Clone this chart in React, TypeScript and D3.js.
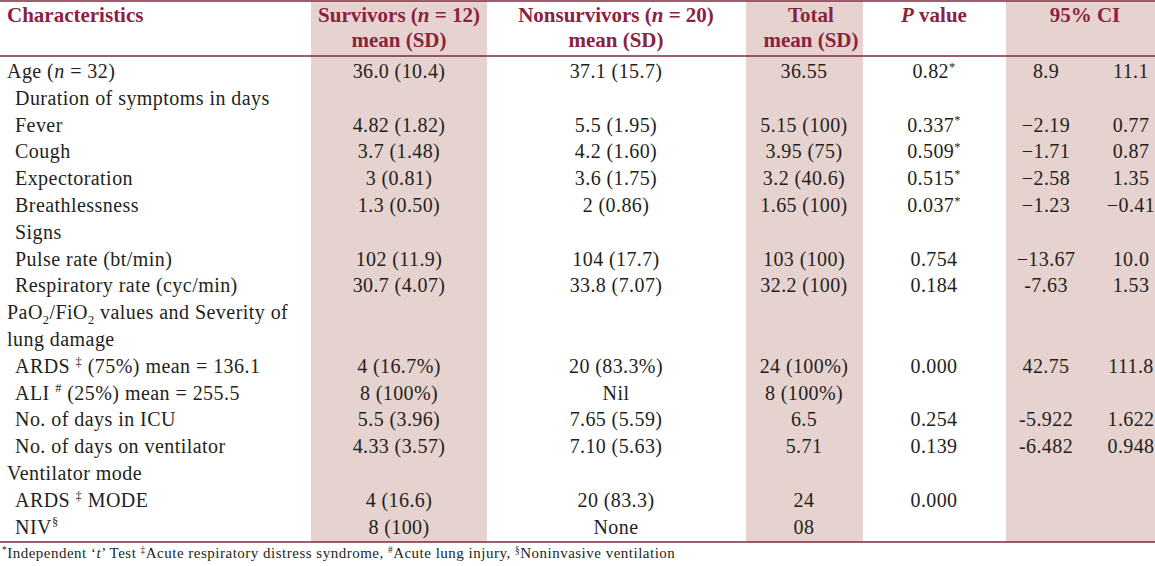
import React from "react";
import * as d3 from "d3";

// ---- data ----
const headerTitles = ["Characteristics", "Survivors (_n_ = 12)", "Nonsurvivors (_n_ = 20)", "Total", "_P_ value", "95% CI"];
const headerSubtitles = ["", "mean (SD)", "mean (SD)", "mean (SD)", "", ""];

const rowLabels = [
  "Age (_n_ = 32)",
  "Duration of symptoms in days",
  "Fever",
  "Cough",
  "Expectoration",
  "Breathlessness",
  "Signs",
  "Pulse rate (bt/min)",
  "Respiratory rate (cyc/min)",
  "PaO~2~/FiO~2~ values and Severity of",
  "lung damage",
  "ARDS ^‡^ (75%) mean = 136.1",
  "ALI ^#^ (25%) mean = 255.5",
  "No. of days in ICU",
  "No. of days on ventilator",
  "Ventilator mode",
  "ARDS ^‡^ MODE",
  "NIV^§^",
];
const rowLevels = [0, 1, 1, 1, 1, 1, 1, 1, 1, 0, 0, 1, 1, 1, 1, 0, 1, 1];

const survivors = ["36.0 (10.4)", "", "4.82 (1.82)", "3.7 (1.48)", "3 (0.81)", "1.3 (0.50)", "", "102 (11.9)", "30.7 (4.07)", "", "", "4 (16.7%)", "8 (100%)", "5.5 (3.96)", "4.33 (3.57)", "", "4 (16.6)", "8 (100)"];
const nonsurvivors = ["37.1 (15.7)", "", "5.5 (1.95)", "4.2 (1.60)", "3.6 (1.75)", "2 (0.86)", "", "104 (17.7)", "33.8 (7.07)", "", "", "20 (83.3%)", "Nil", "7.65 (5.59)", "7.10 (5.63)", "", "20 (83.3)", "None"];
const totals = ["36.55", "", "5.15 (100)", "3.95 (75)", "3.2 (40.6)", "1.65 (100)", "", "103 (100)", "32.2 (100)", "", "", "24 (100%)", "8 (100%)", "6.5", "5.71", "", "24", "08"];
const pValues = ["0.82^*^", "", "0.337^*^", "0.509^*^", "0.515^*^", "0.037^*^", "", "0.754", "0.184", "", "", "0.000", "", "0.254", "0.139", "", "0.000", ""];
const ciLower = ["8.9", "", "−2.19", "−1.71", "−2.58", "−1.23", "", "−13.67", "-7.63", "", "", "42.75", "", "-5.922", "-6.482", "", "", ""];
const ciUpper = ["11.1", "", "0.77", "0.87", "1.35", "−0.41", "", "10.0", "1.53", "", "", "111.8", "", "1.622", "0.948", "", "", ""];

const footnote = "^*^Independent ‘_t_’ Test ^‡^Acute respiratory distress syndrome, ^#^Acute lung injury, ^§^Noninvasive ventilation";

// ---- layout ----
const W = 1155;
const H = 566;
const FONT = "'Liberation Serif', 'Times New Roman', serif";
const HEAD_COLOR = "#8a2340";
const LINE_COLOR = "#7a2a3c";
const SHADE = "#e6d2cf";
const TEXT = "#231f20";

// column boundaries
const colEdges = [0, 311, 487, 746, 863, 1006, 1155];
const shaded = [false, true, false, true, false, true];

function rich(str: string, fs: number, keyBase: string) {
  const parts = str.split(/(_[^_]+_|\^[^^]+\^|~[^~]+~)/).filter((p) => p.length);
  let cur = 0;
  const out: any[] = [];
  parts.forEach((p, i) => {
    let text = p;
    let shift = 0;
    let size: number | undefined;
    let italic = false;
    if (p.startsWith("_") && p.endsWith("_")) {
      text = p.slice(1, -1);
      italic = true;
    } else if (p.startsWith("^") && p.endsWith("^")) {
      text = p.slice(1, -1);
      shift = -fs * 0.36;
      size = fs * 0.62;
    } else if (p.startsWith("~") && p.endsWith("~")) {
      text = p.slice(1, -1);
      shift = fs * 0.22;
      size = fs * 0.62;
    }
    const dy = shift - cur;
    cur = shift;
    out.push(
      <tspan
        key={keyBase + i}
        dy={dy !== 0 ? dy : undefined}
        fontSize={size}
        fontStyle={italic ? "italic" : undefined}
      >
        {text}
      </tspan>
    );
  });
  return out;
}

export default function App() {
  const y = d3.scaleLinear().domain([0, rowLabels.length - 1]).range([78, 533.5]);
  const tableTop = 1;
  const headBottom = 56;
  const tableBottom = 542;

  const colX = {
    surv: 399,
    non: 616,
    total: 804,
    p: 934,
    ciL: 1046,
    ciU: 1131,
  };
  const headerX = [7, 399, 616, 811, 934, 1085];

  const bodyFs = 20;
  const headFs = 21;
  const footFs = 15;

  const dataCols: [string[], number][] = [
    [survivors, colX.surv],
    [nonsurvivors, colX.non],
    [totals, colX.total],
    [pValues, colX.p],
    [ciLower, colX.ciL],
    [ciUpper, colX.ciU],
  ];

  return (
    <svg
      width={W}
      height={H}
      style={{ position: "absolute", left: 0, top: 0, background: "#fff" }}
      fontFamily={FONT}
    >
      <rect x={0} y={0} width={W} height={H} fill="#fff" />
      {shaded.map((s, i) =>
        s ? (
          <rect
            key={"sh" + i}
            x={colEdges[i]}
            y={tableTop}
            width={colEdges[i + 1] - colEdges[i]}
            height={tableBottom - tableTop}
            fill={SHADE}
          />
        ) : null
      )}
      <line x1={0} x2={W} y1={tableTop} y2={tableTop} stroke={LINE_COLOR} strokeWidth={1.5} />
      <line x1={0} x2={W} y1={headBottom} y2={headBottom} stroke={LINE_COLOR} strokeWidth={1.5} />
      <line x1={0} x2={W} y1={tableBottom} y2={tableBottom} stroke={LINE_COLOR} strokeWidth={1.5} />

      {headerTitles.map((t, i) => (
        <text
          key={"ht" + i}
          x={headerX[i]}
          y={22}
          fontSize={headFs}
          fontWeight="bold"
          fill={HEAD_COLOR}
          textAnchor={i === 0 ? "start" : "middle"}
        >
          {rich(t, headFs, "ht" + i)}
        </text>
      ))}
      {headerSubtitles.map((t, i) =>
        t ? (
          <text
            key={"hs" + i}
            x={headerX[i]}
            y={47}
            fontSize={headFs}
            fontWeight="bold"
            fill={HEAD_COLOR}
            textAnchor="middle"
          >
            {t}
          </text>
        ) : null
      )}

      {rowLabels.map((l, i) => (
        <text
          key={"rl" + i}
          x={rowLevels[i] ? 15 : 7}
          y={y(i)}
          fontSize={bodyFs}
          fill={TEXT}
          letterSpacing={0.45}
        >
          {rich(l, bodyFs, "rl" + i)}
        </text>
      ))}

      {dataCols.map(([vals, cx], c) =>
        vals.map((v, i) =>
          v ? (
            <text
              key={"d" + c + "-" + i}
              x={cx}
              y={y(i)}
              fontSize={bodyFs}
              fill={TEXT}
              textAnchor="middle"
              letterSpacing={0.4}
            >
              {rich(v, bodyFs, "d" + c + "-" + i)}
            </text>
          ) : null
        )
      )}

      <text x={2} y={558} fontSize={footFs} fill={TEXT} letterSpacing={0.5}>
        {rich(footnote, footFs, "fn")}
      </text>
    </svg>
  );
}
